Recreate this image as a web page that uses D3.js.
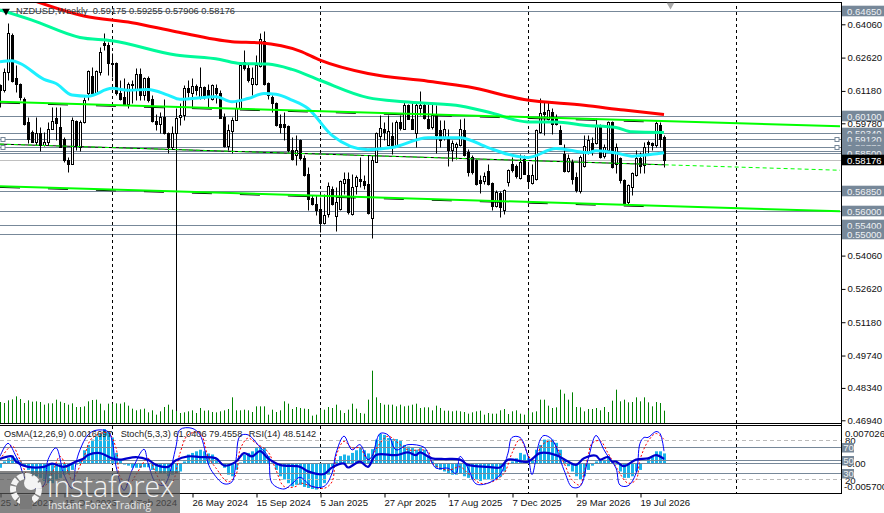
<!DOCTYPE html>
<html><head><meta charset="utf-8">
<script src="https://cdnjs.cloudflare.com/ajax/libs/d3/7.8.5/d3.min.js"></script>
<style>
html,body{margin:0;padding:0;background:#fff;overflow:hidden}
svg{display:block}
text{font-family:"Liberation Sans",Arial,sans-serif;font-size:9.6px;fill:#111}
</style></head><body><svg id="c" width="884" height="513"></svg>
<script>
// Prices are stored in 1/10000 units (pips)
const open=[6143,6121,6201,6359,6172,6150,6085,5984,5941,5898,5938,5883,5898,5955,5999,5963,5912,5818,5804,5989,5876,5984,6107,6182,6110,6201,6323,6316,6240,6237,6107,6093,6061,6150,6124,6193,6100,6172,6081,5989,5974,6006,5934,5876,5934,6006,6013,6129,6110,6139,6093,6133,6121,6085,6129,6107,6006,5880,5945,5994,6042,6244,6218,6150,6150,6227,6335,6153,6093,6064,5977,5973,5965,5861,5840,5905,5830,5760,5655,5628,5609,5548,5584,5695,5576,5609,5720,5739,5587,5706,5739,5729,5714,5570,5811,5922,5955,5883,5922,5883,5984,5955,6056,5998,5936,6042,6056,5998,5962,6013,5951,5919,5919,5861,5876,5883,5948,5854,5832,5818,5732,5729,5770,5720,5620,5677,5602,5724,5804,5792,5743,5825,5753,5720,5736,5941,6027,5998,6027,6006,5948,5847,5772,5811,5746,5685,5792,5854,5891,5891,5970,5836,5862,5984,5804,5826,5732,5638,5703,5753,5826,5797,5898,5893,5883,5970,5917.5];
const high=[6150,6215,6410,6370,6230,6152,6093,6006,5948,6006,5963,5941,5984,6049,6049,6049,5919,5833,6006,5994,5992,6093,6208,6222,6208,6309,6367,6331,6280,6244,6165,6172,6157,6165,6215,6215,6180,6182,6100,6020,6028,6085,5941,5965,6042,6064,6143,6165,6172,6150,6222,6139,6150,6150,6150,6121,6023,5977,6006,6078,6237,6297,6237,6222,6273,6367,6377,6157,6100,6071,6020,6028,5970,5919,5926,5908,5840,5789,5667,5667,5659,5674,5724,5706,5703,5734,5768,5768,5760,5753,5833,5753,5840,5840,5941,6013,5984,6013,5984,5991,6013,6071,6063,6071,6071,6117,6071,6063,6063,6056,5994,5994,5955,5905,5897,5998,6003,5869,5840,5825,5753,5768,5801,5724,5688,5685,5695,5782,5833,5804,5847,5840,5807,5804,5955,6089,6071,6071,6046,6020,5970,5890,5847,5825,5768,5840,5926,5927,5919,5999,5977,5888,5989,5989,5891,5833,5739,5717,5768,5862,5854,5898,5905,5898,5989,5984,5925.5];
const low=[6049,6114,6165,6157,6114,6078,5970,5891,5898,5883,5859,5879,5883,5955,5905,5876,5811,5768,5801,5862,5859,5980,6078,6100,6107,6186,6295,6186,6179,6100,6078,6056,6042,6064,6078,6078,6078,6071,5984,5948,5937,5931,5850,5869,5869,5970,5991,6093,6049,6100,6085,6085,6049,6078,6064,5999,5876,5862,5850,5991,6042,6208,6157,6100,6143,6222,6143,6085,6027,5965,5934,5905,5855,5818,5797,5818,5749,5602,5623,5580,5508,5544,5573,5623,5512,5605,5674,5587,5580,5674,5703,5695,5587,5483,5811,5876,5905,5883,5847,5876,5948,5955,5998,5955,5876,6013,5998,5955,5955,5850,5876,5905,5792,5814,5825,5879,5835,5749,5760,5710,5677,5714,5710,5602,5616,5573,5584,5705,5768,5743,5739,5757,5705,5717,5734,5936,5926,5991,5933,5970,5887,5768,5768,5717,5681,5677,5789,5847,5840,5888,5830,5826,5859,5786,5761,5720,5628,5631,5667,5749,5761,5761,5840,5862,5876,5876,5790.6];
const close=[6120,6201,6367,6162,6150,6093,5974,5912,5898,5937,5883,5898,5955,5989,5981,5876,5818,5804,5994,5880,5984,6078,6204,6107,6204,6287,6316,6240,6234,6107,6085,6061,6147,6143,6193,6100,6172,6078,5989,5977,6006,5934,5876,5934,6003,6013,6129,6114,6139,6121,6136,6093,6093,6143,6107,6003,5880,5948,5994,6042,6230,6218,6165,6172,6230,6341,6150,6100,6064,5970,5963,5963,5862,5825,5861,5830,5753,5652,5628,5605,5548,5580,5706,5630,5638,5729,5739,5594,5703,5746,5727,5710,5590,5821,5934,5959,5941,5945,5879,5984,5959,6056,5998,5955,6056,6056,6003,5959,6013,5926,5905,5955,5861,5893,5890,5955,5840,5768,5768,5714,5720,5749,5717,5620,5681,5616,5691,5775,5775,5749,5811,5760,5729,5753,5948,6023,6020,6037,5977,5977,5890,5772,5830,5739,5688,5832,5879,5905,5862,5970,5833,5876,5984,5790,5876,5732,5631,5710,5761,5826,5792,5876,5888,5886,5980,5912,5817.6];

const volume=[63,60,68,71,80,72,60,68,64,65,63,55,59,59,70,64,60,55,59,48,48,50,65,69,70,58,38,58,58,59,58,62,52,43,38,41,43,32,38,25,35,48,55,40,43,30,32,35,38,30,45,37,38,33,32,35,38,42,77,38,38,40,38,33,50,50,50,25,40,33,38,65,58,42,48,45,43,42,22,25,40,40,48,45,55,38,30,40,58,43,30,28,70,157,77,60,55,55,55,50,55,50,52,55,58,45,47,47,38,52,45,37,37,35,37,35,33,28,32,35,37,25,30,28,28,38,42,27,35,38,28,25,38,32,35,70,70,52,45,47,100,88,70,92,48,47,35,42,42,45,38,48,33,67,100,65,70,62,63,77,65,77,62,50,63,60,37];
const osma=[-9,3,9,14,9,3,-6,-13,-22,-25,-28,-34,-38,-38,-31,-28,-22,-19,-13,-3,6,24,34,44,50,55,64,59,48,19,6,-3,-5,-9,-9,-9,-8,-8,-13,-16,-19,-19,-25,-22,-19,-16,3,16,19,22,25,22,18,16,9,0,-9,-22,-25,-13,1,16,19,22,28,31,28,13,1,-13,-25,-31,-38,-44,-41,-41,-45,-47,-49,-50,-45,-38,-22,-6,3,13,16,14,19,24,28,24,18,26,44,55,53,47,45,45,43,34,31,28,25,28,25,13,3,-9,-13,-16,-20,-22,-22,-19,-25,-28,-31,-31,-34,-31,-31,-33,-30,-26,-16,-1,3,9,19,16,9,6,25,34,44,44,44,38,25,6,-6,-16,-25,-31,-25,-13,-5,3,5,6,13,5,-3,-16,-28,-28,-25,-16,-13,0,8,13,22,22,18];

// moving averages, read at knots (bar index, value)
const maRedIdx=[9,21,33,44,58,65,75,80,92,107,117,131,146,156,166];
const maRedVal=[6505,6442,6413,6374,6331,6326,6290,6251,6193,6160,6136,6081,6056,6035,6016];
const maGreenIdx=[0,8,20,28,44,55,60,67,73,80,92,101,114,122,132,139,146,154,158,166];
const maGreenVal=[6468,6424,6349,6335,6273,6254,6237,6234,6211,6164,6089,6071,6056,6027,5984,5984,5970,5960,5941,5938];
const maAquaIdx=[0,3,5,11,14,18,22,28,32,37,42,45,54,58,62,66,69,73,77,83,92,98,107,115,122,127,132,139,147,149,154,158,163,166];
const maAquaVal=[6244,6248,6237,6168,6150,6100,6095,6129,6121,6124,6100,6082,6093,6071,6085,6107,6104,6078,6042,5926,5864,5873,5916,5916,5873,5844,5830,5869,5851,5859,5850,5836,5844,5851];

// trend lines (bar index, value)
const upperIdx=[0,210], upperVal=[6071,5965];
const lowerIdx=[0,210], lowerVal=[5706,5598];
const midIdx=[0,210],  midVal=[5888,5775];
const lastBar=166;

// horizontal levels and the tags on the price axis
const levelVals=[6465,6010,5934,5912,5877,5858,5850,5685,5600,5540,5500];
const levelText=["0.64650","0.60100","0.59340","0.59120","0.58770","0.58580","0.58500","0.56850","0.56000","0.55400","0.55000"];
const bidVal=5817.6, bidText="0.58176";
const tickVals=[6406,6262,6118,5978,5406,5262,5118,4974,4834,4694];
const tickText=["0.64060","0.62620","0.61180","0.59780","0.54060","0.52620","0.51180","0.49740","0.48340","0.46940"];
const handleVals=[5912,5877];
const separators=[28,80,132,184];
const spikeBar=44, spikeVal=5880;

// date axis
const dateIdx=[0,16,32,48,64,80,96,112,128,144,160];
const dateText=["25 Jun 2023","15 Oct 2023","4 Feb 2024","26 May 2024","15 Sep 2024","5 Jan 2025","27 Apr 2025","17 Aug 2025","7 Dec 2025","29 Mar 2026","19 Jul 2026"];

// indicators (knots: bar index, value)
const stochIdx=[0,2,4,5,6,8,9,11,12,14,16,18,19,20,22,24,27,28,29,31,33,36,37,39,41,42,44,45,48,50,52,53,56,58,59,60,62,65,67,68,71,73,75,78,81,83,84,86,88,90,92,93,95,97,99,102,106,107,109,112,114,115,117,119,122,125,127,128,130,132,133,135,136,138,141,143,145,147,149,151,152,154,155,157,159,160,161,162,164,165,166];
const stochVal=[55,75,55,42,24,6,6,11,50,68,27,6,45,65,88,95,93,80,40,3,34,66,45,14,11,21,70,96,98,88,45,32,13,16,50,86,88,69,55,14,5,13,23,9,9,29,60,86,65,73,50,55,90,88,65,73,69,60,37,37,29,55,37,13,14,27,60,84,84,55,27,80,87,81,34,8,9,50,87,65,55,37,11,10,29,75,84,84,93,90,63];
const signalIdx=[0,3,5,8,11,13,15,17,18,21,23,27,29,30,32,34,37,39,41,43,45,47,50,52,54,57,59,60,62,64,67,69,71,74,75,78,81,83,84,86,88,90,92,95,97,100,102,107,108,112,115,117,120,123,126,128,130,133,136,138,141,143,145,146,147,148,150,152,154,157,159,160,162,164,166];
const signalVal=[50,71,50,14,9,29,55,32,19,55,83,91,68,24,11,27,52,29,10,14,60,88,91,55,37,16,27,65,83,75,62,34,9,9,14,9,6,16,55,78,68,68,50,75,86,73,65,63,45,34,39,29,14,16,29,60,81,50,75,78,45,19,11,30,55,75,79,60,39,14,19,50,78,90,81];
const rsiIdx=[0,3,4,7,11,13,16,19,21,22,25,28,30,34,37,39,42,44,47,50,54,56,59,61,63,65,67,70,75,77,81,83,86,87,90,92,94,99,102,104,105,108,111,115,117,122,125,127,132,135,139,142,144,146,149,150,152,153,154,156,159,162,164,166];
const rsiVal=[51,55,47,39,39,44,39,47,52,57,60,52,50,54,50,42,39,49,55,54,52,41,47,60,55,63,52,42,39,32,28,38,44,38,47,39,57,57,61,57,61,52,51,50,42,39,38,50,47,60,57,47,42,52,56,50,54,47,47,40,50,52,57,51];
const rsiLevels=[70,50,30], stochLevels=[80,20];

const svg=d3.select("#c");
const W=884,H=513,AX=841;
const x=d3.scaleLinear().domain([0,210]).range([0,840]);
const y=d3.scaleLinear().domain([6406,4694]).range([24.3,420.3]);
const vol=d3.scaleLinear().domain([0,300]).range([423,323]);
const os=d3.scaleLinear().domain([0,64]).range([463,429]);
const osc=d3.scaleLinear().domain([0,100]).range([492.3,427]);
const px=i=>x(i)+0.5;
const py=v=>Math.round(y(v))+0.5;
const slate="#778899";

svg.append("defs").append("clipPath").attr("id","main").append("rect").attr("x",0).attr("y",3).attr("width",AX).attr("height",420);
svg.append("defs").append("clipPath").attr("id","sub").append("rect").attr("x",0).attr("y",426).attr("width",AX).attr("height",67);
const main=svg.append("g").attr("clip-path","url(#main)");
const sub=svg.append("g").attr("clip-path","url(#sub)");

// levels
main.selectAll(".lv").data(levelVals).join("line").attr("x1",0).attr("x2",AX).attr("y1",py).attr("y2",py).attr("stroke",slate).attr("stroke-width",1);
main.append("line").attr("x1",0).attr("x2",AX).attr("y1",py(bidVal)).attr("y2",py(bidVal)).attr("stroke","#c0c0c0");

// separators
[main,sub].forEach(g=>g.selectAll(".sp").data(separators).join("line")
  .attr("x1",d=>px(d)).attr("x2",d=>px(d)).attr("y1",0).attr("y2",H)
  .attr("stroke","#000").attr("stroke-dasharray","3 3"));

// volume
main.selectAll(".v").data(volume).join("line")
  .attr("x1",(d,i)=>px(i)).attr("x2",(d,i)=>px(i)).attr("y1",423).attr("y2",d=>vol(d)).attr("stroke","#008000");

// long vertical bar
main.append("line").attr("x1",px(spikeBar)).attr("x2",px(spikeBar)).attr("y1",y(spikeVal)).attr("y2",411).attr("stroke","#000");

// candles
const candles=main.append("g");
candles.selectAll(".w").data(open).join("line")
  .attr("x1",(d,i)=>px(i)).attr("x2",(d,i)=>px(i))
  .attr("y1",(d,i)=>py(high[i])).attr("y2",(d,i)=>py(low[i])).attr("stroke","#000");
candles.selectAll(".b").data(open).join("rect")
  .attr("x",(d,i)=>x(i)-0.5).attr("width",2)
  .attr("y",(d,i)=>py(Math.max(d,close[i])))
  .attr("height",(d,i)=>Math.max(0.01,py(Math.min(d,close[i]))-py(Math.max(d,close[i]))))
  .attr("fill",(d,i)=>close[i]>=d?"#fff":"#000").attr("stroke","#000");

// lines
const pts=(a,b)=>a.map((k,i)=>[k,b[i]]);
const line=d3.line().x(d=>x(d[0])).y(d=>y(d[1]));
const ma=(a,b,c,w)=>main.append("path").attr("d",line.curve(d3.curveMonotoneX)(pts(a,b))).attr("fill","none").attr("stroke",c).attr("stroke-width",w);
ma(maGreenIdx,maGreenVal,"#00fa9a",3);
ma(maAquaIdx,maAquaVal,"#1cf0ff",3);
ma(maRedIdx,maRedVal,"#ff0000",3);
const tl=d3.line().x(d=>x(d[0])).y(d=>y(d[1]));
const at=(v,i)=>v[0]+(v[1]-v[0])*i/210;
// black trend segments beneath the lime lines, as far as the last bar
[upperVal,lowerVal].forEach(v=>main.append("path").attr("d",tl(pts([0,lastBar],[at(v,0),at(v,lastBar)])))
  .attr("transform","translate(0,1.2)").attr("fill","none").attr("stroke","#000").attr("stroke-dasharray","20 28"));
main.append("path").attr("d",tl(pts([0,lastBar],[at(midVal,0),at(midVal,lastBar)]))).attr("fill","none").attr("stroke","#000").attr("stroke-width",1);
main.append("path").attr("d",tl(pts(midIdx,midVal))).attr("fill","none").attr("stroke","#00ff00").attr("stroke-width",1).attr("stroke-dasharray","4 3");
main.append("path").attr("d",tl(pts(upperIdx,upperVal))).attr("fill","none").attr("stroke","#00ff00").attr("stroke-width",2);
main.append("path").attr("d",tl(pts(lowerIdx,lowerVal))).attr("fill","none").attr("stroke","#00ff00").attr("stroke-width",2);

// handles
svg.selectAll(".hl").data(handleVals).join("rect").attr("x",1).attr("width",4).attr("y",d=>py(d)-2).attr("height",4).attr("fill","#fff").attr("stroke",slate);
svg.selectAll(".hr").data(handleVals).join("rect").attr("x",835).attr("width",4).attr("y",d=>py(d)-2).attr("height",4).attr("fill","#fff").attr("stroke",slate);

// sub panel
sub.selectAll(".o").data(osma).join("rect")
  .attr("x",(d,i)=>x(i)-1).attr("width",3)
  .attr("y",d=>Math.min(os(d),os(0))).attr("height",d=>Math.abs(os(d)-os(0)))
  .attr("fill","#1ab4ea");
sub.selectAll(".rl").data(rsiLevels).join("line").attr("x1",0).attr("x2",AX)
  .attr("y1",d=>Math.round(osc(d))+.5).attr("y2",d=>Math.round(osc(d))+.5).attr("stroke",slate);
sub.append("line").attr("x1",0).attr("x2",AX).attr("y1",os(0)+.5).attr("y2",os(0)+.5).attr("stroke",slate);
sub.selectAll(".sl").data(stochLevels).join("line").attr("x1",0).attr("x2",AX)
  .attr("y1",d=>Math.round(osc(d))+.5).attr("y2",d=>Math.round(osc(d))+.5).attr("stroke","#bbb").attr("stroke-dasharray","4 3");
const ol=d3.line().x(d=>x(d[0])).y(d=>osc(d[1])).curve(d3.curveCatmullRom.alpha(0.5));
sub.append("path").attr("d",ol(pts(signalIdx,signalVal))).attr("fill","none").attr("stroke","#f00").attr("stroke-dasharray","2 2");
sub.append("path").attr("d",ol(pts(stochIdx,stochVal))).attr("fill","none").attr("stroke","#0000ff");
sub.append("path").attr("d",ol(pts(rsiIdx,rsiVal))).attr("fill","none").attr("stroke","#0000cd").attr("stroke-width",2.2);

// frame
const frame=[[0,841,2.5,2.5],[0,841,423.5,423.5],[0,841,425.5,425.5],[0,841,493.5,493.5],[841.5,841.5,2,494]];
svg.selectAll(".f").data(frame).join("line").attr("x1",d=>d[0]).attr("x2",d=>d[1]).attr("y1",d=>d[2]).attr("y2",d=>d[3]).attr("stroke","#000");

// price tags
const tag=(v,t,bg,fg)=>{
  const yy=py(v);
  svg.append("line").attr("x1",841).attr("x2",845).attr("y1",yy).attr("y2",yy).attr("stroke","#000");
  svg.append("rect").attr("x",842).attr("y",yy-5.8).attr("width",42).attr("height",10.6).attr("fill",bg);
  svg.append("text").attr("x",847).attr("y",yy+3).text(t).style("fill",fg);
};
levelVals.forEach((v,i)=>tag(v,levelText[i],slate,"#eef1f4"));
tag(bidVal,bidText,"#000","#fff");

// price axis (drawn after the tags so 0.59780 stays readable)
const yAxis=d3.axisRight(y).tickValues(tickVals).tickSize(4).tickPadding(2).tickFormat((d,i)=>tickText[i]);
const ya=svg.append("g").attr("transform","translate(841.5,0)").call(yAxis);
ya.select(".domain").remove();
ya.selectAll("line").attr("stroke","#000");
ya.selectAll("text").attr("fill","#111").style("font-family","Liberation Sans").style("font-size","9.6px");

// date axis
const xAxis=d3.axisBottom(x).tickValues(dateIdx).tickSize(4).tickPadding(2).tickFormat((d,i)=>dateText[i]);
const xa=svg.append("g").attr("transform","translate(0.5,493.5)").call(xAxis);
xa.select(".domain").remove();
xa.selectAll("line").attr("stroke","#000");
xa.selectAll("text").attr("text-anchor","start").attr("dx",-0.5).attr("fill","#111").style("font-family","Liberation Sans").style("font-size","9.6px");

// sub axis labels
const subText=["0.0070262","80","0.00","20","-0.005700"];
const subY=[437,444,467,484,490], subX=[845,845,847,845,844];
subText.forEach((t,i)=>svg.append("text").attr("x",subX[i]).attr("y",subY[i]).text(t));
rsiLevels.forEach(l=>{
  const yy=Math.round(osc(l))+.5;
  svg.append("rect").attr("x",842).attr("y",yy-4.5).attr("width",12).attr("height",9.5).attr("fill",slate);
  svg.append("text").attr("x",843.2).attr("y",yy+3.5).text(l).style("fill","#eef1f4");
});

// titles
const tri=d3.symbol().type(d3.symbolTriangle).size(26);
svg.append("path").attr("d",tri()).attr("transform","translate(6,11) rotate(180)").attr("fill","#000");
svg.append("text").attr("x",16).attr("y",14).text("NZDUSD,Weekly  0.59175 0.59255 0.57906 0.58176").attr("xml:space","preserve").style("fill","#333").style("font-size","9.3px");
svg.append("path").attr("d",tri()).attr("transform","translate(670.5,5) rotate(180)").attr("fill","#aaa");
const subTitleX=[4,120.7,248.7];
const subTitles=["OsMA(12,26,9) 0.0016697","Stoch(5,3,3) 61.0406 79.4558","RSI(14) 48.5142"];
subTitles.forEach((t,i)=>svg.append("text").attr("x",subTitleX[i]).attr("y",437).text(t).style("fill","#222").style("font-size","9.2px"));

// watermark
const wm=svg.append("g");
wm.append("rect").attr("x",0).attr("y",471).attr("width",180).attr("height",42).attr("fill","#555").attr("fill-opacity",0.72);
const gear=wm.append("g").attr("transform","translate(26,489)").attr("fill","#f4f4f4");
gear.append("circle").attr("r",13).attr("fill","none").attr("stroke","#f4f4f4").attr("stroke-width",6).attr("stroke-dasharray","6 1.5");
gear.append("circle").attr("cx",5).attr("cy",-6).attr("r",7);
gear.append("rect").attr("x",-6).attr("y",6).attr("width",12).attr("height",14).attr("fill","#7a7a7a");
wm.append("text").attr("x",47).attr("y",497).text("instaforex").style("font-size","28.5px").style("fill","#f2f2f2").style("font-family","Open Sans").style("font-weight","300");
wm.append("text").attr("x",48).attr("y",509).text("Instant Forex Trading").style("font-size","10.4px").style("fill","#e8e8e8").style("font-family","Open Sans");
</script></body></html>
